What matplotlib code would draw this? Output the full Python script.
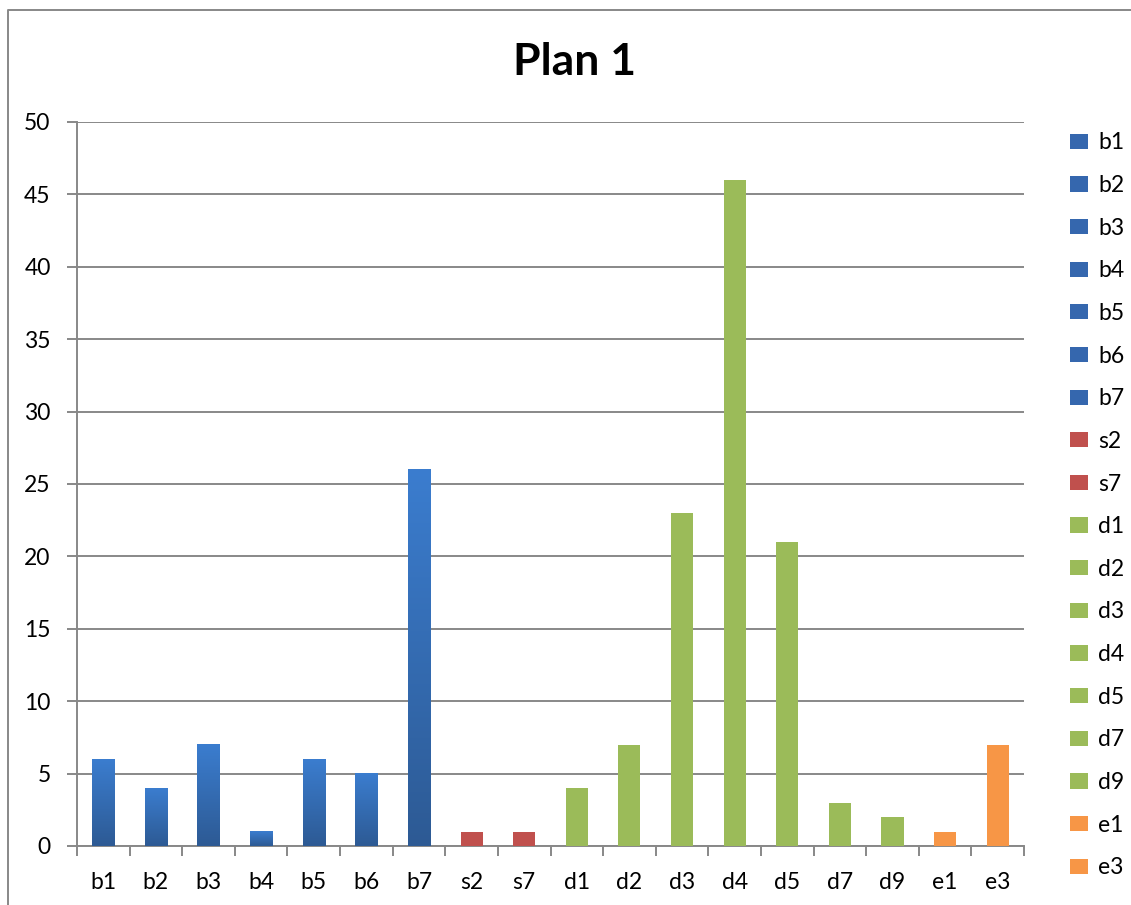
import numpy as np
import matplotlib
matplotlib.use("Agg")
import matplotlib.pyplot as plt
from matplotlib.patches import Patch
from matplotlib.lines import Line2D
from matplotlib.colors import LinearSegmentedColormap

# data
categories = ["b1", "b2", "b3", "b4", "b5", "b6", "b7", "s2", "s7",
              "d1", "d2", "d3", "d4", "d5", "d7", "d9", "e1", "e3"]
values = [6, 4, 7, 1, 6, 5, 26, 1, 1, 4, 7, 23, 46, 21, 3, 2, 1, 7]
groups = ["b"] * 7 + ["s"] * 2 + ["d"] * 7 + ["e"] * 2

group_colors = {"b": "#3567AE", "s": "#C0504D", "d": "#9BBB59", "e": "#F79646"}
blue_grad = LinearSegmentedColormap.from_list("bgrad", ["#2D5A94", "#3B7DCF"])

plt.rcParams["font.family"] = ["Lato", "DejaVu Sans"]

fig = plt.figure(figsize=(11.31, 9.05), dpi=100)
ax = fig.add_axes([0.0681, 0.0652, 0.8373, 0.8000])

x = np.arange(len(categories))
bars = ax.bar(x, values, width=0.42, color=[group_colors[g] for g in groups],
              zorder=3)

# vertical gradient on the "b" bars
grad = np.linspace(1, 0, 256).reshape(-1, 1)
for bar, g in zip(bars, groups):
    if g != "b":
        continue
    x0, w, h = bar.get_x(), bar.get_width(), bar.get_height()
    ax.imshow(grad, cmap=blue_grad, aspect="auto", zorder=4,
              extent=(x0, x0 + w, 0, h), interpolation="bicubic")

ax.set_xlim(-0.5, len(categories) - 0.5)
ax.set_ylim(0, 50)
ax.set_yticks(range(0, 51, 5))
ax.set_xticks(x)
ax.set_xticklabels(categories)
ax.set_xticks(np.arange(-0.5, len(categories), 1.0), minor=True)

grid_c = "#888888"
ax.yaxis.grid(True, color=grid_c, linewidth=1.4, zorder=0)
ax.set_axisbelow(True)
for s in ["top", "right"]:
    ax.spines[s].set_visible(False)
for s in ["left", "bottom"]:
    ax.spines[s].set_color(grid_c)
    ax.spines[s].set_linewidth(1.4)
ax.tick_params(axis="y", length=7, width=1.4, color=grid_c, labelsize=16.5,
               pad=12)
ax.tick_params(axis="x", which="major", length=0, labelsize=16.5, pad=19)
ax.tick_params(axis="x", which="minor", length=7, width=1.4, color=grid_c)

fig.text(0.508, 0.931, "Plan 1", ha="center", va="center", fontsize=32,
         fontweight="bold")

handles = [Patch(facecolor=group_colors[g], edgecolor="none") for g in groups]
fig.legend(handles, categories, loc="upper left",
           bbox_to_anchor=(0.9355, 0.8665), frameon=False, fontsize=16.5,
           handlelength=0.8, handleheight=0.65, handletextpad=0.45,
           labelspacing=0.945, borderpad=0)

# chart border (top and left edges)
left, top = 8 / 1131, 1 - 10 / 905
fig.lines.append(Line2D([left, left, 1.0], [0.0, top, top],
                        transform=fig.transFigure, color=grid_c,
                        linewidth=1.4))

fig.savefig("out.png", dpi=100)
